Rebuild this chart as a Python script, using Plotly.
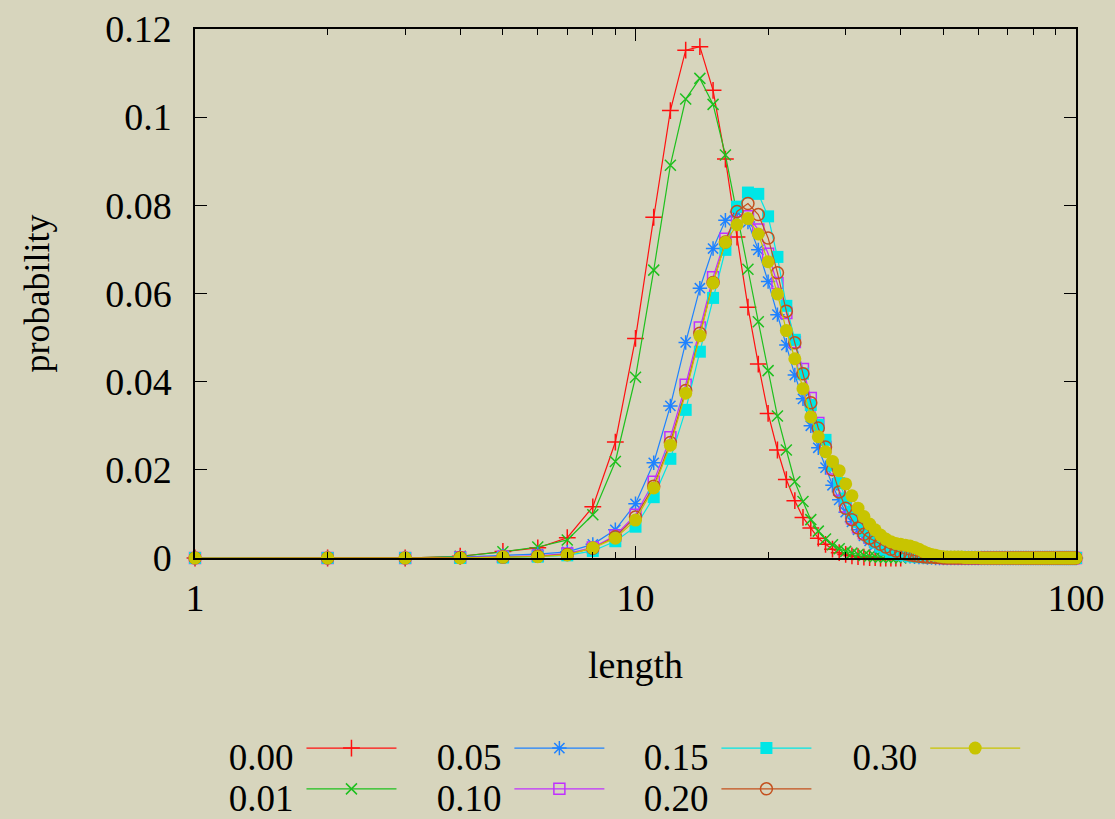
import plotly.graph_objects as go

# integer chain lengths 1..100
length = list(range(1, 101))

p000 = [0, 0, 0, 0.0004, 0.0015, 0.0023, 0.0046, 0.0116, 0.0263, 0.0498,
        0.0773, 0.1015, 0.1152, 0.1160, 0.1061, 0.0905, 0.0728, 0.0569, 0.0440, 0.0328,
        0.0245, 0.0178, 0.0130, 0.0092, 0.0068, 0.0045, 0.0031, 0.0020, 0.0012, 0.0008,
        0.0005, 0.0003, 0.0002, 0.0001, 0.0001, 0, 0, 0, 0, 0]

p001 = [0, 0, 0, 0.0004, 0.0014, 0.0025, 0.0041, 0.0098, 0.0219, 0.0410,
        0.0653, 0.0891, 0.1041, 0.1088, 0.1029, 0.0914, 0.0785, 0.0655, 0.0536, 0.0425,
        0.0322, 0.0245, 0.0173, 0.0128, 0.0087, 0.0061, 0.0043, 0.0030, 0.0021, 0.0015,
        0.0011, 0.0008, 0.0006, 0.0004, 0.0003, 0.0002, 0.0002, 0.0001, 0.0001, 0]

p005 = [0, 0, 0, 0.0002, 0.0005, 0.0009, 0.0014, 0.0031, 0.0064, 0.0123,
        0.0216, 0.0345, 0.0489, 0.0612, 0.0702, 0.0766, 0.0785, 0.0762, 0.0699, 0.0627,
        0.0552, 0.0483, 0.0415, 0.0361, 0.0300, 0.0250, 0.0205, 0.0165, 0.0132, 0.0104,
        0.0082, 0.0064, 0.0050, 0.0039, 0.0030, 0.0023, 0.0017, 0.0013, 0.0010, 0.0007,
        0.0005, 0.0004, 0.0003, 0.0002, 0.0002, 0.0001, 0.0001, 0, 0, 0,
        0, 0, 0, 0, 0, 0, 0, 0, 0, 0,
        0, 0, 0, 0, 0, 0, 0, 0, 0, 0,
        0, 0, 0, 0, 0, 0, 0, 0, 0, 0,
        0, 0, 0, 0, 0, 0, 0, 0, 0, 0,
        0, 0, 0, 0, 0, 0, 0, 0, 0, 0]

p010 = [0, 0, 0, 0.0001, 0.0003, 0.0005, 0.0010, 0.0024, 0.0051, 0.0098,
        0.0173, 0.0274, 0.0393, 0.0523, 0.0637, 0.0724, 0.0775, 0.0775, 0.0745, 0.0690,
        0.0624, 0.0556, 0.0490, 0.0429, 0.0363, 0.0306, 0.0252, 0.0203, 0.0155, 0.0117,
        0.0090, 0.0070, 0.0056, 0.0046, 0.0038, 0.0031, 0.0025, 0.0020, 0.0016, 0.0012,
        0.0009, 0.0007, 0.0005, 0.0004, 0.0003, 0.0002, 0.0002, 0.0001, 0.0001, 0,
        0, 0, 0, 0, 0, 0, 0, 0, 0, 0,
        0, 0, 0, 0, 0, 0, 0, 0, 0, 0,
        0, 0, 0, 0, 0, 0, 0, 0, 0, 0,
        0, 0, 0, 0, 0, 0, 0, 0, 0, 0,
        0, 0, 0, 0, 0, 0, 0, 0, 0, 0]

p015 = [0, 0, 0, 0, 0.0001, 0.0003, 0.0006, 0.0016, 0.0038, 0.0071,
        0.0138, 0.0225, 0.0336, 0.0468, 0.0590, 0.0699, 0.0797, 0.0829, 0.0826, 0.0775,
        0.0683, 0.0572, 0.0495, 0.0418, 0.0347, 0.0302, 0.0268, 0.0210, 0.0170, 0.0135,
        0.0105, 0.0082, 0.0062, 0.0047, 0.0035, 0.0026, 0.0019, 0.0014, 0.0010, 0.0008,
        0.0006, 0.0004, 0.0003, 0.0002, 0.0002, 0.0001, 0.0001, 0.0001, 0.0001, 0.0001,
        0, 0, 0, 0, 0, 0, 0, 0, 0, 0,
        0, 0, 0, 0, 0, 0, 0, 0, 0, 0,
        0, 0, 0, 0, 0, 0, 0, 0, 0, 0,
        0, 0, 0, 0, 0, 0, 0, 0, 0, 0,
        0, 0, 0, 0, 0, 0, 0, 0, 0, 0]

p020 = [0, 0, 0, 0.0001, 0.0002, 0.0004, 0.0008, 0.0022, 0.0048, 0.0093,
        0.0163, 0.0262, 0.0380, 0.0510, 0.0625, 0.0717, 0.0786, 0.0804, 0.0779, 0.0726,
        0.0647, 0.0560, 0.0488, 0.0418, 0.0352, 0.0295, 0.0252, 0.0200, 0.0150, 0.0113,
        0.0087, 0.0068, 0.0054, 0.0045, 0.0038, 0.0031, 0.0025, 0.0020, 0.0016, 0.0012,
        0.0009, 0.0007, 0.0005, 0.0004, 0.0003, 0.0002, 0.0002, 0.0001, 0.0001, 0,
        0, 0, 0, 0, 0, 0, 0, 0, 0, 0,
        0, 0, 0, 0, 0, 0, 0, 0, 0, 0,
        0, 0, 0, 0, 0, 0, 0, 0, 0, 0,
        0, 0, 0, 0, 0, 0, 0, 0, 0, 0,
        0, 0, 0, 0, 0, 0, 0, 0, 0, 0]

p030 = [0, 0, 0, 0, 0.0002, 0.0003, 0.0007, 0.0023, 0.0045, 0.0086,
        0.0159, 0.0256, 0.0374, 0.0504, 0.0624, 0.0716, 0.0756, 0.0770, 0.0735, 0.0672,
        0.0599, 0.0516, 0.0452, 0.0384, 0.0320, 0.0275, 0.0241, 0.0219, 0.0198, 0.0168,
        0.0141, 0.0113, 0.0094, 0.0077, 0.0064, 0.0052, 0.0043, 0.0037, 0.0033, 0.0031,
        0.0029, 0.0027, 0.0024, 0.0020, 0.0015, 0.0011, 0.0008, 0.0006, 0.0004, 0.0003,
        0.0002, 0.0002, 0.0002, 0.0002, 0.0002, 0.0001, 0.0001, 0.0001, 0.0001, 0.0001,
        0, 0, 0, 0, 0, 0, 0, 0, 0, 0,
        0, 0, 0, 0, 0, 0, 0, 0, 0, 0,
        0, 0, 0, 0, 0, 0, 0, 0, 0, 0,
        0, 0, 0, 0, 0, 0, 0, 0, 0, 0]

labels = ["0.00", "0.01", "0.05", "0.10", "0.15", "0.20", "0.30"]
series = [p000, p001, p005, p010, p015, p020, p030]
colors = ["#ff1010", "#1ec01e", "#1e82ff", "#c030ff", "#00e6e6", "#c4501e", "#c8c400"]
symbols = ["cross-thin-open", "x-thin-open", "asterisk-open", "square-open",
           "square", "circle-open", "circle"]
sizes = [12, 11, 12, 11, 12, 12, 13]

y_ticks = [0, 0.02, 0.04, 0.06, 0.08, 0.1, 0.12]
y_ticktext = ["0", "0.02", "0.04", "0.06", "0.08", "0.1", "0.12"]
x_ticks = [1, 10, 100]
x_ticktext = ["1", "10", "100"]

FONT = "'Liberation Serif', 'Times New Roman', Times, serif"
BG = "#d7d5bd"

fig = go.Figure()

# legend positions (paper coords): columns filled top to bottom
leg_x = [0.036, 0.036, 0.272, 0.272, 0.507, 0.507, 0.744]
leg_y = [-0.366, -0.443, -0.366, -0.443, -0.366, -0.443, -0.366]

for i, (lab, vals) in enumerate(zip(labels, series)):
    lw = 1.5 if symbols[i] in ("cross-thin-open", "x-thin-open", "asterisk-open",
                               "square-open", "circle-open") else 0
    fig.add_trace(go.Scatter(
        x=length[:len(vals)], y=vals, mode="lines+markers", name=" ",
        line=dict(color=colors[i], width=1.2),
        marker=dict(symbol=symbols[i], size=sizes[i], color=colors[i],
                    line=dict(color=colors[i], width=lw)),
        cliponaxis=False,
        legend="legend" if i == 0 else f"legend{i+1}",
    ))

layout_legends = {}
for i, lab in enumerate(labels):
    key = "legend" if i == 0 else f"legend{i+1}"
    layout_legends[key] = dict(
        x=leg_x[i], y=leg_y[i], xanchor="left", yanchor="middle",
        orientation="v", bgcolor="rgba(0,0,0,0)", borderwidth=0,
        title=dict(text=lab, side="left", font=dict(family=FONT, size=37, color="black")),
        font=dict(family=FONT, size=30, color="black"),
        itemwidth=90, tracegroupgap=0, itemclick=False,
    )

fig.update_layout(
    width=1115, height=819, autosize=False,
    margin=dict(l=195, r=39, t=29, b=261, pad=0, autoexpand=False),
    paper_bgcolor=BG, plot_bgcolor=BG,
    font=dict(family=FONT, size=38, color="black"),
    showlegend=True,
    **layout_legends,
)

fig.update_xaxes(
    type="log", range=[0, 2],
    tickvals=x_ticks, ticktext=x_ticktext,
    ticks="inside", ticklen=12, tickwidth=1.3, tickcolor="black",
    minor=dict(ticks="inside", ticklen=6, tickwidth=1.3, tickcolor="black",
               dtick="D1", showgrid=False),
    showline=True, linecolor="black", linewidth=1.5, mirror="allticks",
    showgrid=False, zeroline=False,
    ticklabelstandoff=6,
    tickfont=dict(family=FONT, size=38),
    title=dict(text="length", standoff=33, font=dict(family=FONT, size=38)),
)
fig.update_yaxes(
    range=[0, 0.12],
    tickvals=y_ticks, ticktext=y_ticktext,
    ticks="inside", ticklen=12, tickwidth=1.3, tickcolor="black",
    showline=True, linecolor="black", linewidth=1.5, mirror="allticks",
    showgrid=False, zeroline=False,
    ticklabelstandoff=14,
    tickfont=dict(family=FONT, size=38),
    title=dict(text="probability", standoff=45, font=dict(family=FONT, size=36)),
)

fig.write_html("out.html")
